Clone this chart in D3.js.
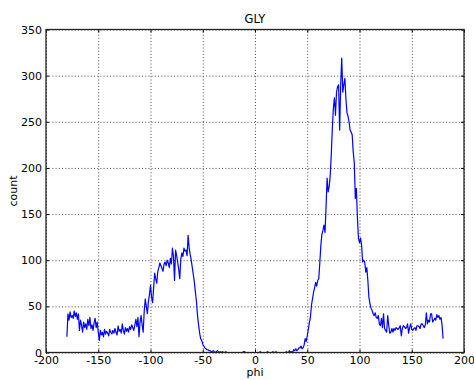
<!DOCTYPE html>
<html>
<head>
<meta charset="utf-8">
<script src="https://cdn.jsdelivr.net/npm/d3@7"></script>
<style>
  html, body { margin: 0; padding: 0; background: #fff; }
  svg { display: block; }
  text { font-family: "DejaVu Sans", sans-serif; fill: #000; }
</style>
</head>
<body>
<svg id="chart" width="474" height="380"></svg>
<script>
// Histogram of glycine backbone phi angles, one bin per degree (-180 .. 180)
const phiStart = -180;
const counts = [
  17, 42, 35, 44, 38, 40, 37, 45, 39, 43,       // -180 .. -171
  36, 42, 24, 35, 30, 22, 33, 27, 31, 25,       // -170 .. -161
  36, 29, 38, 26, 30, 24, 32, 37, 27, 33,       // -160 .. -151
  22, 13, 24, 19, 22, 17, 25, 20, 23, 21,       // -150 .. -141
  18, 25, 22, 20, 24, 21, 26, 22, 19, 29,       // -140 .. -131
  23, 25, 21, 31, 24, 20, 27, 23, 26, 22,       // -130 .. -121
  28, 25, 30, 27, 24, 30, 36, 28, 38, 17,       // -120 .. -111
  33, 40, 30, 22, 45, 58, 50, 42, 55, 63,       // -110 .. -101
  73, 60, 54, 70, 86, 80, 75, 88, 92, 97,       // -100 .. -91
  94, 91, 88, 96, 98, 94, 100, 97, 92, 102,     // -90 .. -81
  96, 113, 104, 78, 111, 105, 98, 90, 80, 101,  // -80 .. -71
  108, 104, 113, 110, 111, 105, 127, 113, 106, 100, // -70 .. -61
  92, 84, 76, 65, 55, 40, 30, 21, 15, 13,       // -60 .. -51
  9, 7, 5, 4, 3, 3, 2, 2, 1, 1,                 // -50 .. -41
  2, 1, 0, 1, 2, 1, 0, 1, 0, 1,                 // -40 .. -31
  0, 0, 1, 0, 0, 0, 0, 0, 0, 0,                 // -30 .. -21
  0, 0, 0, 0, 0, 0, 0, 0, 0, 1,                 // -20 .. -11
  1, 0, 0, 0, 0, 0, 0, 0, 0, 0,                 // -10 .. -1
  0, 0, 0, 0, 0, 1, 0, 0, 0, 0,                 // 0 .. 9
  0, 0, 1, 0, 0, 0, 0, 1, 0, 0,                 // 10 .. 19
  1, 0, 0, 0, 0, 0, 0, 0, 0, 0,                 // 20 .. 29
  1, 0, 0, 2, 0, 1, 0, 3, 2, 4,                 // 30 .. 39
  2, 3, 5, 5, 7, 4, 5, 8, 15, 12,               // 40 .. 49
  18, 25, 32, 38, 51, 58, 65, 70, 76, 72,       // 50 .. 59
  78, 80, 97, 116, 128, 132, 138, 130, 158, 189, // 60 .. 69
  174, 180, 192, 215, 243, 265, 276, 257, 282, 288, // 70 .. 79
  290, 241, 290, 319, 282, 290, 297, 275, 260, 256, // 80 .. 89
  250, 241, 239, 236, 217, 206, 167, 178, 146, 124, // 90 .. 99
  119, 124, 116, 98, 100, 98, 87, 92, 78, 60,   // 100 .. 109
  53, 48, 46, 42, 40, 43, 38, 37, 40, 31,       // 110 .. 119
  29, 37, 27, 42, 26, 24, 22, 40, 29, 21,       // 120 .. 129
  22, 26, 22, 26, 24, 27, 26, 25, 27, 29,       // 130 .. 139
  18, 26, 29, 28, 26, 27, 31, 21, 27, 31,       // 140 .. 149
  25, 24, 26, 27, 24, 29, 29, 28, 26, 31,       // 150 .. 159
  31, 29, 27, 30, 43, 31, 35, 33, 42, 42,       // 160 .. 169
  33, 35, 37, 35, 41, 38, 40, 36, 38, 30, 15    // 170 .. 180
];
const xTicks = [-200, -150, -100, -50, 0, 50, 100, 150, 200];
const yTicks = [0, 50, 100, 150, 200, 250, 300, 350];
const titleText = "GLY";
const xLabel = "phi";
const yLabel = "count";

const points = counts.map((c, i) => ({ phi: phiStart + i, count: c }));

const svg = d3.select("#chart");
const box = { left: 46, right: 464, top: 29.5, bottom: 352.5 };

const x = d3.scaleLinear().domain([-200, 200]).range([box.left, box.right]);
const y = d3.scaleLinear().domain([0, 350]).range([box.bottom, box.top]);
const plotW = box.right - box.left;
const plotH = box.bottom - box.top;

// dotted grid
const grid = svg.append("g").attr("class", "grid");
grid.append("g")
  .attr("transform", `translate(0,${box.bottom})`)
  .call(d3.axisBottom(x).tickValues(xTicks).tickSize(-plotH).tickFormat(""))
  .call(g => g.select(".domain").remove());
grid.append("g")
  .attr("transform", `translate(${box.left},0)`)
  .call(d3.axisLeft(y).tickValues(yTicks).tickSize(-plotW).tickFormat(""))
  .call(g => g.select(".domain").remove());
grid.selectAll("line")
  .attr("stroke", "#333")
  .attr("stroke-width", 0.9)
  .attr("stroke-dasharray", "1,2.2");

// data line
const line = d3.line().x(d => x(d.phi)).y(d => y(d.count));
svg.append("path")
  .datum(points)
  .attr("fill", "none")
  .attr("stroke", "#0000ff")
  .attr("stroke-width", 1.2)
  .attr("stroke-linejoin", "round")
  .attr("d", line);

// axes with inward ticks
const fmt = d => String(d);
const styleAxis = g => {
  g.select(".domain").remove();
  g.selectAll(".tick line").attr("stroke", "#000").attr("stroke-width", 1);
  g.selectAll(".tick text").attr("font-size", 11).attr("fill", "#000")
    .attr("font-family", "DejaVu Sans, sans-serif");
};
svg.append("g")
  .attr("transform", `translate(0,${box.bottom})`)
  .call(d3.axisBottom(x).tickValues(xTicks).tickFormat(fmt).tickSizeInner(-3).tickSizeOuter(0).tickPadding(4))
  .call(styleAxis);
svg.append("g")
  .attr("transform", `translate(0,${box.top})`)
  .call(d3.axisTop(x).tickValues(xTicks).tickFormat("").tickSizeInner(-3).tickSizeOuter(0))
  .call(styleAxis);
svg.append("g")
  .attr("transform", `translate(${box.left},0)`)
  .call(d3.axisLeft(y).tickValues(yTicks).tickFormat(fmt).tickSizeInner(-3).tickSizeOuter(0).tickPadding(4))
  .call(styleAxis);
svg.append("g")
  .attr("transform", `translate(${box.right},0)`)
  .call(d3.axisRight(y).tickValues(yTicks).tickFormat("").tickSizeInner(-3).tickSizeOuter(0))
  .call(styleAxis);

// frame
svg.append("rect")
  .attr("x", box.left).attr("y", box.top)
  .attr("width", plotW).attr("height", plotH)
  .attr("fill", "none").attr("stroke", "#222").attr("stroke-width", 1.3);

// title and labels
svg.append("text")
  .attr("x", (box.left + box.right) / 2).attr("y", 23)
  .attr("text-anchor", "middle").attr("font-size", 11.5)
  .text(titleText);
svg.append("text")
  .attr("x", (box.left + box.right) / 2).attr("y", 376)
  .attr("text-anchor", "middle").attr("font-size", 11)
  .text(xLabel);
svg.append("text")
  .attr("transform", `translate(17,${(box.top + box.bottom) / 2}) rotate(-90)`)
  .attr("text-anchor", "middle").attr("font-size", 11)
  .text(yLabel);
</script>
</body>
</html>
